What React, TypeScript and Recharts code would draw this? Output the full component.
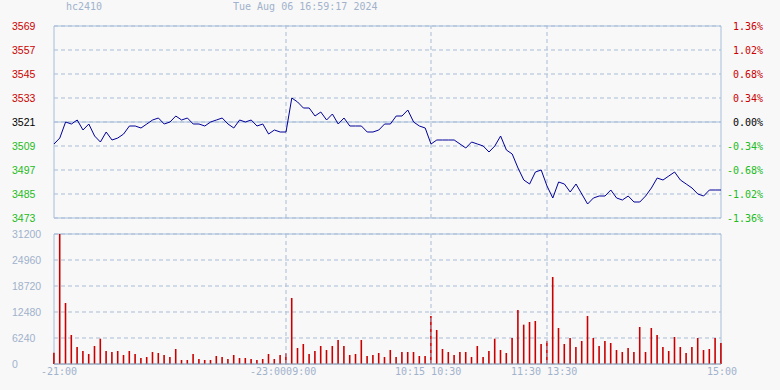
import React from "react";
import {
  ComposedChart,
  Line,
  Bar,
  XAxis,
  YAxis,
  CartesianGrid,
  ReferenceLine,
  ReferenceArea,
} from "recharts";

const symbol = "hc2410";
const stamp = "Tue Aug 06 16:59:17 2024";
const basePrice = 3521;

const priceTicks = [3473, 3485, 3497, 3509, 3521, 3533, 3545, 3557, 3569];
const pctTicks = [-1.36, -1.02, -0.68, -0.34, 0, 0.34, 0.68, 1.02, 1.36];
const volTicks = [0, 6240, 12480, 18720, 24960, 31200];
const timeTickIdx = [0, 40, 65, 85, 115];
const timeTickLabels = ["-21:00", "-23:0009:00", "10:15 10:30", "11:30 13:30", "15:00"];
const sessionBreaks = [40, 65, 85];

const prices = [
  3510, 3513, 3521, 3520, 3522, 3517, 3520, 3514, 3511, 3516,
  3512, 3513, 3515, 3519, 3519, 3518, 3520, 3522, 3523, 3520,
  3521, 3524, 3522, 3523, 3520, 3520, 3519, 3521, 3522, 3523,
  3520, 3518, 3522, 3521, 3522, 3519, 3520, 3515, 3517, 3516,
  3516, 3533, 3531, 3528, 3528, 3524, 3526, 3522, 3525, 3520,
  3523, 3519, 3519, 3519, 3516, 3516, 3517, 3520, 3520, 3524,
  3524, 3527, 3521, 3519, 3518, 3510, 3512, 3512, 3512, 3512,
  3510, 3508, 3511, 3510, 3509, 3506, 3509, 3514, 3507, 3505,
  3498, 3492, 3490, 3496, 3497, 3489, 3483, 3491, 3490, 3486,
  3490, 3485, 3480, 3483, 3484, 3484, 3487, 3483, 3482, 3484,
  3481, 3481, 3484, 3488, 3493, 3492, 3494, 3496, 3492, 3490,
  3488, 3485, 3484, 3487, 3487, 3487,
];

const volumes = [
  2720, 31200, 14640, 6960, 4080, 3120, 2400, 4320, 6080, 3120,
  2880, 3120, 2160, 3120, 2400, 1440, 1680, 2880, 2640, 2160,
  1680, 3600, 960, 960, 2400, 1200, 960, 960, 1920, 1680,
  1200, 2160, 1440, 1440, 1200, 960, 1200, 2400, 1200, 2160,
  2560, 15840, 3840, 4800, 2400, 3120, 4320, 3360, 4320, 5760,
  4320, 2160, 2400, 5760, 1920, 2160, 2640, 1680, 3360, 1680,
  2880, 2880, 2880, 1920, 1920, 11520, 8160, 3600, 2880, 2160,
  2880, 2880, 1680, 4320, 1680, 3120, 6080, 3360, 2640, 6240,
  12960, 9440, 10080, 10320, 4800, 5520, 20880, 8640, 4800, 6240,
  4080, 5520, 11520, 6240, 4320, 5520, 5040, 3360, 2880, 3840,
  2880, 8880, 2880, 8640, 6960, 4080, 3120, 6480, 4080, 2640,
  4080, 6240, 3360, 3600, 6240, 5040,
];

const data = prices.map((p, i) => ({
  i,
  p,
  pct: ((p - basePrice) / basePrice) * 100,
  v: volumes[i],
}));
const lastIdx = data.length - 1;

const BG = "#f8f8f8";
const BORDER = "#a6bedb";
const GRID = "#a9bdd6";
const MUTED = "#a0b2cc";
const MONO = "'DejaVu Sans Mono', monospace";
const SANS = "'Liberation Sans', Arial, sans-serif";

const priceColor = (v: number) =>
  v > basePrice ? "#cc0000" : v < basePrice ? "#22bb22" : "#000000";

const PriceTick = (props: any) => {
  const { y, payload } = props;
  return (
    <text x={12} y={y} dy="0.36em" textAnchor="start" fontFamily={SANS} fontSize={10.5} fill={priceColor(payload.value)}>
      {payload.value}
    </text>
  );
};

const PctTick = (props: any) => {
  const { y, payload } = props;
  const v = payload.value as number;
  const c = v > 0 ? "#cc0000" : v < 0 ? "#22bb22" : "#000000";
  return (
    <text x={763} y={y} dy="0.36em" textAnchor="end" fontFamily={MONO} fontSize={10} fill={c}>
      {v.toFixed(2) + "%"}
    </text>
  );
};

const VolTick = (props: any) => {
  const { y, payload } = props;
  return (
    <text x={12} y={y} dy="0.36em" textAnchor="start" fontFamily={SANS} fontSize={10.5} fill={MUTED}>
      {payload.value}
    </text>
  );
};

const TimeTick = (props: any) => {
  const { x, payload } = props;
  const k = timeTickIdx.indexOf(payload.value);
  const label = timeTickLabels[k];
  let anchor: "start" | "middle" = "start";
  let dx = -36;
  if (k === 0) dx = -13;
  if (k === timeTickIdx.length - 1) {
    anchor = "middle";
    dx = 1;
  }
  return (
    <text x={x + dx} y={375} textAnchor={anchor} fontFamily={MONO} fontSize={10} fill={MUTED}>
      {label}
    </text>
  );
};

export default function App() {
  return (
    <div
      style={{
        position: "absolute",
        left: 0,
        top: 0,
        width: 780,
        height: 390,
        background: BG,
        overflow: "hidden",
      }}
    >
      <div style={{ position: "absolute", left: 66, top: 0, fontFamily: MONO, fontSize: 10, color: MUTED, lineHeight: "14px" }}>
        {symbol}
      </div>
      <div style={{ position: "absolute", left: 233, top: 0, fontFamily: MONO, fontSize: 10, color: MUTED, lineHeight: "14px", whiteSpace: "pre" }}>
        {stamp}
      </div>

      <div style={{ position: "absolute", left: 0, top: 0 }}>
        <ComposedChart width={780} height={390} data={data} margin={{ top: 26, right: 0, left: 0, bottom: 172 }}>
          <XAxis dataKey="i" type="number" domain={[0, lastIdx]} hide />
          <YAxis
            yAxisId="p"
            type="number"
            domain={[priceTicks[0], priceTicks[priceTicks.length - 1]]}
            ticks={priceTicks}
            interval={0}
            width={54}
            axisLine={false}
            tickLine={false}
            tick={<PriceTick />}
          />
          <YAxis
            yAxisId="pct"
            orientation="right"
            type="number"
            domain={[pctTicks[0], pctTicks[pctTicks.length - 1]]}
            allowDataOverflow
            ticks={pctTicks}
            interval={0}
            width={59}
            axisLine={false}
            tickLine={false}
            tick={<PctTick />}
          />
          <CartesianGrid yAxisId="p" vertical={false} stroke={GRID} strokeDasharray="4 3" />
          {sessionBreaks.map((b) => (
            <ReferenceLine key={b} yAxisId="p" x={b} stroke={GRID} strokeDasharray="4 3" />
          ))}
          <ReferenceLine yAxisId="p" y={basePrice} stroke={BORDER} />
          <ReferenceArea
            yAxisId="p"
            x1={0}
            x2={lastIdx}
            y1={priceTicks[0]}
            y2={priceTicks[priceTicks.length - 1]}
            stroke={BORDER}
            fill="none"
            fillOpacity={0}
          />
          <Line
            yAxisId="pct"
            dataKey="pct"
            type="linear"
            stroke="none"
            strokeOpacity={0}
            dot={false}
            activeDot={false}
            isAnimationActive={false}
          />
          <Line
            yAxisId="p"
            dataKey="p"
            type="linear"
            stroke="#000099"
            strokeWidth={1}
            dot={false}
            isAnimationActive={false}
          />
        </ComposedChart>
      </div>

      <div style={{ position: "absolute", left: 0, top: 0 }}>
        <ComposedChart width={780} height={390} data={data} margin={{ top: 234, right: 59, left: 0, bottom: 0 }}>
          <XAxis
            dataKey="i"
            type="number"
            domain={[0, lastIdx]}
            ticks={timeTickIdx}
            interval={0}
            height={26}
            axisLine={{ stroke: "#9aa8b8" }}
            tickLine={false}
            tick={<TimeTick />}
          />
          <YAxis
            type="number"
            domain={[volTicks[0], volTicks[volTicks.length - 1]]}
            ticks={volTicks}
            interval={0}
            width={54}
            axisLine={false}
            tickLine={false}
            tick={<VolTick />}
          />
          <CartesianGrid vertical={false} stroke={GRID} strokeDasharray="4 3" />
          {sessionBreaks.map((b) => (
            <ReferenceLine key={b} x={b} stroke={GRID} strokeDasharray="4 3" />
          ))}
          <ReferenceArea
            x1={0}
            x2={lastIdx}
            y1={volTicks[0]}
            y2={volTicks[volTicks.length - 1]}
            stroke={BORDER}
            fill="none"
            fillOpacity={0}
          />
          <Bar dataKey="v" fill="#c80000" barSize={1.6} isAnimationActive={false} />
        </ComposedChart>
      </div>
    </div>
  );
}
